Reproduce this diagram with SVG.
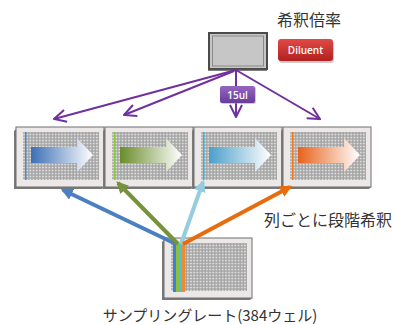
<svg xmlns="http://www.w3.org/2000/svg" width="394" height="325" viewBox="0 0 394 325">
  <style>
    .lbl { font-family: "Noto Sans CJK JP", "Noto Sans", sans-serif; fill: #333333; }
    .btn { font-family: "Open Sans", "Liberation Sans", sans-serif; font-weight: 600; fill: #ffffff; }
    .frame { fill: #ece8e8; stroke: #6e6e6e; stroke-width: 1; }
    .shadow { fill: #7a7a7a; }
    .wells { fill: url(#wellgrid); }
    .purple { fill: none; stroke: #7030a0; stroke-width: 2; }
    .feed { fill: none; stroke-width: 4; }
  </style>
  <defs>
    <pattern id="wellgrid" x="0" y="0" width="3.17" height="3" patternUnits="userSpaceOnUse">
      <rect width="3.17" height="3" fill="#a2a2a2"/>
      <rect x="0.7" y="0.7" width="1.9" height="1.7" fill="#dedede"/>
    </pattern>
    <linearGradient id="gBlue" x1="0" x2="1" y1="0" y2="0">
      <stop offset="0" stop-color="#3c6fb6"/>
      <stop offset="1" stop-color="#ffffff"/>
    </linearGradient>
    <linearGradient id="gGreen" x1="0" x2="1" y1="0" y2="0">
      <stop offset="0" stop-color="#6a8c2c"/>
      <stop offset="1" stop-color="#ffffff"/>
    </linearGradient>
    <linearGradient id="gCyan" x1="0" x2="1" y1="0" y2="0">
      <stop offset="0" stop-color="#4b9fc9"/>
      <stop offset="1" stop-color="#ffffff"/>
    </linearGradient>
    <linearGradient id="gOrange" x1="0" x2="1" y1="0" y2="0">
      <stop offset="0" stop-color="#e8621a"/>
      <stop offset="1" stop-color="#ffffff"/>
    </linearGradient>
    <linearGradient id="gRed" x1="0" x2="0" y1="0" y2="1">
      <stop offset="0" stop-color="#e04a46"/>
      <stop offset="1" stop-color="#b3201e"/>
    </linearGradient>
    <linearGradient id="gPurple" x1="0" x2="0" y1="0" y2="1">
      <stop offset="0" stop-color="#9467c2"/>
      <stop offset="1" stop-color="#6a3c9a"/>
    </linearGradient>
    <!-- 384-well plate body, 88 x 60 -->
    <g id="plate">
      <polygon class="shadow" points="0,2 -2,4 -2,62 86,62 88,60 0,60"/>
      <rect class="frame" x="0" y="0" width="88" height="60"/>
      <rect class="wells" x="7" y="5" width="76" height="48"/>
    </g>
    <!-- broad fading arrow inside a plate -->
    <path id="flow" d="M15,20 H61 V11 L77,28 L61,45 V36 H15 Z"/>
    <marker id="vHead" viewBox="0 0 14 14" refX="13" refY="7" markerWidth="14" markerHeight="14" markerUnits="userSpaceOnUse" orient="auto">
      <path d="M1,1 L13,7 L1,13" fill="none" stroke="#7030a0" stroke-width="2"/>
    </marker>
    <marker id="hBlue" viewBox="0 0 10 10" refX="8" refY="5" markerWidth="12" markerHeight="12" markerUnits="userSpaceOnUse" orient="auto">
      <path d="M0,0 L10,5 L0,10 Z" fill="#4a7fc0"/>
    </marker>
    <marker id="hGreen" viewBox="0 0 10 10" refX="8" refY="5" markerWidth="12" markerHeight="12" markerUnits="userSpaceOnUse" orient="auto">
      <path d="M0,0 L10,5 L0,10 Z" fill="#76923c"/>
    </marker>
    <marker id="hCyan" viewBox="0 0 10 10" refX="8" refY="5" markerWidth="12" markerHeight="12" markerUnits="userSpaceOnUse" orient="auto">
      <path d="M0,0 L10,5 L0,10 Z" fill="#92cde0"/>
    </marker>
    <marker id="hOrange" viewBox="0 0 10 10" refX="8" refY="5" markerWidth="12" markerHeight="12" markerUnits="userSpaceOnUse" orient="auto">
      <path d="M0,0 L10,5 L0,10 Z" fill="#e66c0e"/>
    </marker>
  </defs>

  <rect width="394" height="325" fill="#ffffff"/>

  <!-- dilution reservoir and labels -->
  <g id="reservoir">
    <rect x="209" y="33" width="58" height="36" fill="#c6c6c6" stroke="#4a4a4a" stroke-width="2"/>
    <rect x="212.5" y="36" width="51" height="30" fill="none" stroke="#8a8a8a" stroke-width="1"/>
    <line x1="208" y1="70" x2="267" y2="70" stroke="#555" stroke-width="1.5"/>
  </g>
  <g id="ratio-label">
    <text class="lbl" x="277" y="26" font-size="16">希釈倍率</text>
  </g>
  <g id="diluent">
    <rect x="279" y="41" width="55" height="22" rx="3" fill="#9a9a9a" opacity="0.5"/>
    <rect x="278" y="39" width="55" height="22" rx="3" fill="url(#gRed)"/>
    <text class="btn" x="305.5" y="54" font-size="10" text-anchor="middle">Diluent</text>
  </g>

  <!-- plates in the dilution row -->
  <g id="plate-1">
    <use href="#plate" x="16" y="127"/>
    <use href="#flow" x="16" y="127" fill="url(#gBlue)"/>
    <rect x="25" y="132" width="1.5" height="48" fill="#4a8ad0"/>
  </g>
  <g id="plate-2">
    <use href="#plate" x="105" y="127"/>
    <use href="#flow" x="105" y="127" fill="url(#gGreen)"/>
    <rect x="114" y="132" width="1.5" height="48" fill="#8cc63e"/>
  </g>
  <g id="plate-3">
    <use href="#plate" x="194" y="127"/>
    <use href="#flow" x="194" y="127" fill="url(#gCyan)"/>
    <rect x="203" y="132" width="1.5" height="48" fill="#35b6d8"/>
  </g>
  <g id="plate-4">
    <use href="#plate" x="283" y="127"/>
    <use href="#flow" x="283" y="127" fill="url(#gOrange)"/>
    <rect x="292" y="132" width="1.5" height="48" fill="#f07a1c"/>
  </g>

  <!-- sample plate -->
  <g id="sample-plate">
    <use href="#plate" x="164" y="238"/>
    <rect x="173" y="244" width="3" height="48" fill="#3f7fd0"/>
    <rect x="176" y="244" width="3" height="48" fill="#8fbf3a"/>
    <rect x="179" y="244" width="3" height="48" fill="#49c0e0"/>
    <rect x="182" y="244" width="3" height="48" fill="#f08a2a"/>
  </g>
  <g id="sample-label">
    <text class="lbl" x="210" y="321" font-size="15" text-anchor="middle">サンプリングレート(384ウェル)</text>
  </g>
  <g id="serial-label">
    <text class="lbl" x="264" y="226" font-size="16">列ごとに段階希釈</text>
  </g>

  <!-- connectors -->
  <g id="connectors">
    <line class="purple" x1="236" y1="70" x2="54" y2="119" marker-end="url(#vHead)"/>
    <line class="purple" x1="234" y1="71" x2="124" y2="115" marker-end="url(#vHead)"/>
    <line class="purple" x1="236" y1="70" x2="236" y2="117" marker-end="url(#vHead)"/>
    <line class="purple" x1="236" y1="70" x2="320" y2="119" marker-end="url(#vHead)"/>
    <line class="feed" stroke="#4a7fc0" x1="176" y1="244" x2="63" y2="190" marker-end="url(#hBlue)"/>
    <line class="feed" stroke="#76923c" x1="178" y1="244" x2="118" y2="183" marker-end="url(#hGreen)"/>
    <line class="feed" stroke="#92cde0" x1="181" y1="244" x2="203" y2="182" marker-end="url(#hCyan)"/>
    <line class="feed" stroke="#e66c0e" x1="183" y1="244" x2="290" y2="187" marker-end="url(#hOrange)"/>
  </g>

  <!-- volume tag on the centre line -->
  <g id="volume-tag">
    <rect x="221" y="87" width="35" height="17" rx="2" fill="#9a9a9a" opacity="0.5"/>
    <rect x="220" y="86" width="35" height="17" rx="2" fill="url(#gPurple)"/>
    <text class="btn" x="237.5" y="98.5" font-size="10" text-anchor="middle">15ul</text>
  </g>
</svg>
